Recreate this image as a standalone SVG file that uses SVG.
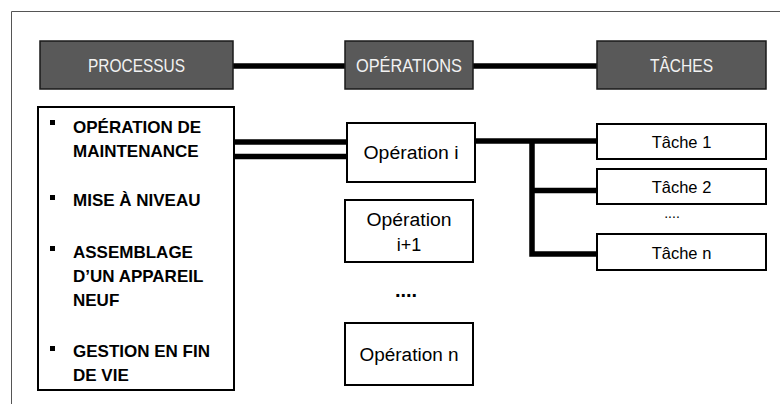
<svg xmlns="http://www.w3.org/2000/svg" width="780" height="404" viewBox="0 0 780 404">
<style>
.hdr{fill:#595959;stroke:#1a1a1a;stroke-width:1.5}
.ht{font-family:"Liberation Sans",Arial,sans-serif;font-size:17.5px;fill:#f2f2f2;text-anchor:middle}
.box{fill:#fff;stroke:#000;stroke-width:2}
.bt{font-family:"Liberation Sans",Arial,sans-serif;font-size:17px;font-weight:bold;fill:#000}
.ot{font-family:"Liberation Sans",Arial,sans-serif;font-size:18px;fill:#000;text-anchor:middle}
.tt{font-family:"Liberation Sans",Arial,sans-serif;font-size:16.5px;fill:#000;text-anchor:middle}
.cn{stroke:#000;stroke-width:5.5;fill:none}
</style>
<rect width="780" height="404" fill="#fff"/>
<path d="M11.5 404 V11.5 H780" fill="none" stroke="#555" stroke-width="1"/>
<g id="connectors">
<line class="cn" x1="233" y1="66" x2="345" y2="66"/>
<line class="cn" x1="473" y1="66" x2="597" y2="66"/>
<line class="cn" x1="234" y1="142" x2="347" y2="142"/>
<line class="cn" x1="234" y1="156.5" x2="347" y2="156.5"/>
<line class="cn" x1="475" y1="141" x2="597" y2="141"/>
<polyline class="cn" points="532,141 532,254 597,254"/>
<line class="cn" x1="532" y1="190.5" x2="597" y2="190.5"/>
</g>
<g id="processus"><rect class="hdr" x="40" y="41" width="193" height="48"/><text class="ht" x="136.5" y="71.5" textLength="97" lengthAdjust="spacingAndGlyphs">PROCESSUS</text></g>
<g id="operations"><rect class="hdr" x="345" y="41" width="128" height="48"/><text class="ht" x="409" y="71.5" textLength="106" lengthAdjust="spacingAndGlyphs">OPÉRATIONS</text></g>
<g id="taches"><rect class="hdr" x="597" y="41" width="169" height="48"/><text class="ht" x="681.5" y="71.5" textLength="63" lengthAdjust="spacingAndGlyphs">TÂCHES</text></g>
<g id="liste">
<rect class="box" x="38" y="107" width="196" height="283"/>
<rect x="50" y="120" width="5" height="5"/>
<rect x="50" y="195" width="5" height="5"/>
<rect x="50" y="246" width="5" height="5"/>
<rect x="50" y="346" width="5" height="5"/>
<text class="bt" x="73" y="133">OPÉRATION DE</text>
<text class="bt" x="73" y="157">MAINTENANCE</text>
<text class="bt" x="73" y="206">MISE À NIVEAU</text>
<text class="bt" x="73" y="258">ASSEMBLAGE</text>
<text class="bt" x="73" y="282">D’UN APPAREIL</text>
<text class="bt" x="73" y="306">NEUF</text>
<text class="bt" x="73" y="357">GESTION EN FIN</text>
<text class="bt" x="73" y="381">DE VIE</text>
</g>
<g id="operation-i"><rect class="box" x="347" y="123" width="128" height="59"/><text class="ot" x="411" y="159" textLength="95" lengthAdjust="spacingAndGlyphs">Opération i</text></g>
<g id="operation-i1"><rect class="box" x="345" y="200" width="128" height="62"/><text class="ot" x="409" y="226" textLength="85" lengthAdjust="spacingAndGlyphs">Opération</text><text class="ot" x="409" y="251">i+1</text></g>
<g id="op-dots"><text x="406" y="297" font-family="Liberation Sans, Arial, sans-serif" font-size="20" font-weight="bold" text-anchor="middle">....</text></g>
<g id="operation-n"><rect class="box" x="345" y="323" width="128" height="62"/><text class="ot" x="409" y="360.5" textLength="99" lengthAdjust="spacingAndGlyphs">Opération n</text></g>
<g id="tache-1"><rect class="box" x="597" y="124" width="169" height="35"/><text class="tt" x="681.5" y="147.5">Tâche 1</text></g>
<g id="tache-2"><rect class="box" x="597" y="169" width="169" height="35"/><text class="tt" x="681.5" y="192.5">Tâche 2</text></g>
<g id="tache-dots"><text x="672" y="218" font-family="Liberation Sans, Arial, sans-serif" font-size="14" text-anchor="middle">....</text></g>
<g id="tache-n"><rect class="box" x="597" y="234" width="169" height="36"/><text class="tt" x="681.5" y="258.5">Tâche n</text></g>
</svg>
